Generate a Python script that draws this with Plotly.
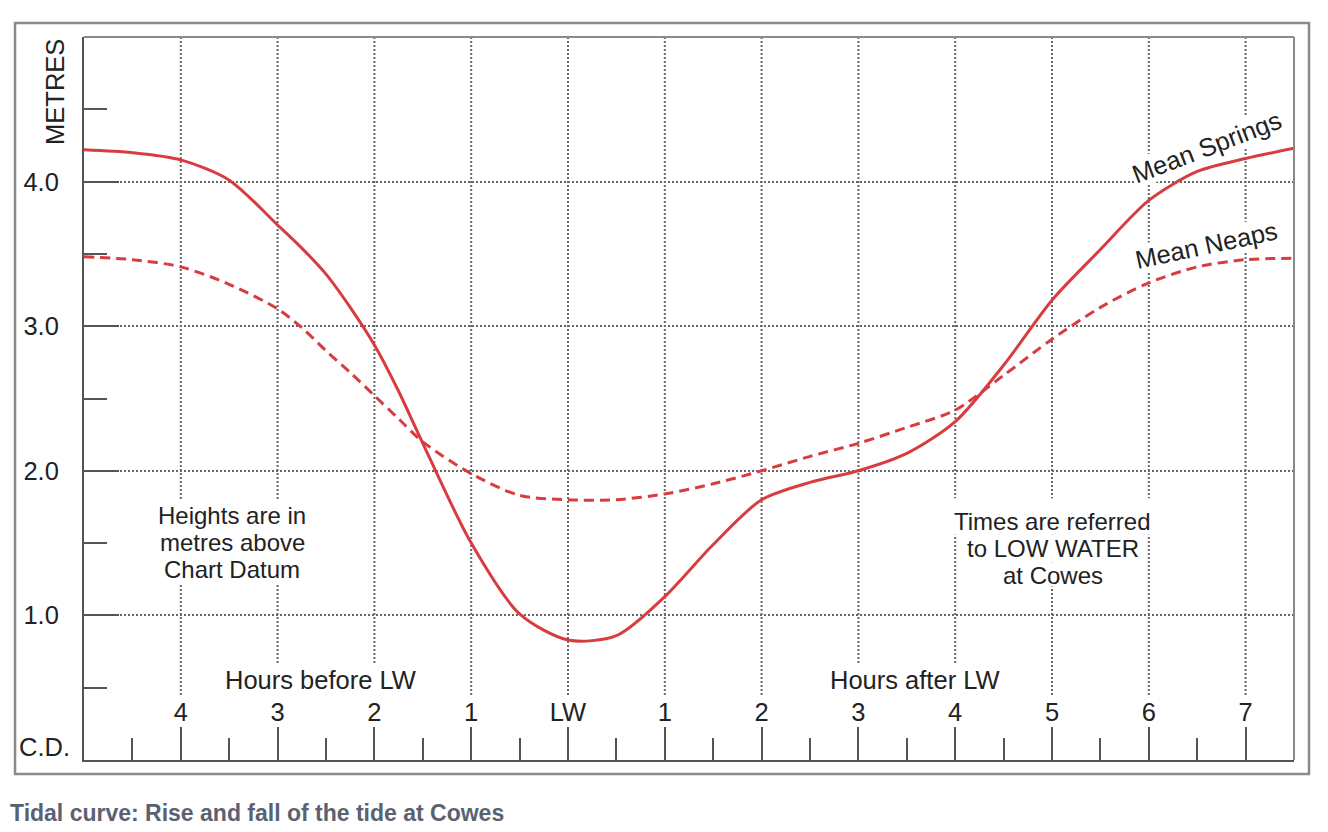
import plotly.graph_objs as go

# hours relative to low water (negative = before LW)
hours = [-5, -4.5, -4, -3.5, -3, -2.75, -2.5, -2.25, -2, -1.75, -1.5, -1, -0.5, 0, 0.5, 1, 1.5, 2, 2.5,
         3, 3.5, 4, 4.5, 5, 5.5, 6, 6.5, 7, 7.5]
springs = [4.22, 4.20, 4.15, 4.01, 3.70, 3.54, 3.36, 3.13, 2.87, 2.55, 2.19, 1.50, 1.01, 0.83, 0.86, 1.13,
           1.49, 1.80, 1.92, 2.00, 2.12, 2.34, 2.73, 3.18, 3.53, 3.87, 4.07, 4.16, 4.23]
neaps = [3.48, 3.46, 3.41, 3.29, 3.12, 2.99, 2.83, 2.68, 2.52, 2.36, 2.20, 1.98, 1.83, 1.80, 1.80, 1.84,
         1.91, 2.00, 2.10, 2.19, 2.30, 2.42, 2.66, 2.91, 3.13, 3.30, 3.41, 3.46, 3.47]

hour_ticks = [-4, -3, -2, -1, 0, 1, 2, 3, 4, 5, 6, 7]
hour_labels = ['4', '3', '2', '1', 'LW', '1', '2', '3', '4', '5', '6', '7']
half_hours = [-4.5, -3.5, -2.5, -1.5, -0.5, 0.5, 1.5, 2.5, 3.5, 4.5, 5.5, 6.5]
height_ticks = [1, 2, 3, 4]
height_labels = ['1.0', '2.0', '3.0', '4.0']
half_metres = [0.5, 1.5, 2.5, 3.5, 4.5]

left_note = ['Heights are in', 'metres above', 'Chart Datum']
right_note = ['Times are referred', 'to LOW WATER', 'at Cowes']

RED = '#d83c3f'
AXIS = '#555555'
GRID = '#666666'
FONT = 'Liberation Sans, Arial, sans-serif'

fig = go.Figure()
fig.add_trace(go.Scatter(x=hours, y=neaps, mode='lines', name='Mean Neaps',
                         line=dict(color=RED, width=3, dash='10px,6px', shape='spline', smoothing=0.8)))
fig.add_trace(go.Scatter(x=hours, y=springs, mode='lines', name='Mean Springs',
                         line=dict(color=RED, width=3, shape='spline', smoothing=0.8)))

# vertical dotted grid, stopping above the hour labels
for h in hour_ticks:
    fig.add_shape(type='line', xref='x', yref='y', x0=h, x1=h, y0=0.45, y1=5,
                  line=dict(color=GRID, width=2, dash='2px,2px'), layer='below')

# white patches behind the notes so the grid breaks around the text
for x0, x1, y0, y1 in [(-4.3, -2.65, 1.21, 1.80), (3.97, 6.09, 1.557, 1.81),
                       (4.08, 5.97, 1.368, 1.557), (4.49, 5.56, 1.2, 1.368)]:
    fig.add_shape(type='rect', xref='x', yref='y', x0=x0, x1=x1, y0=y0, y1=y1,
                  fillcolor='white', line=dict(width=0), layer='below')

# plot frame top/right and outer box
fig.add_shape(type='line', xref='paper', yref='paper', x0=0, x1=1, y0=1, y1=1,
              line=dict(color='#8a8a8a', width=2))
fig.add_shape(type='line', xref='paper', yref='paper', x0=1, x1=1, y0=0, y1=1,
              line=dict(color='#8a8a8a', width=2))
fig.add_shape(type='rect', xref='paper', yref='paper', x0=-0.057, x1=1.0124, y0=-0.0194, y1=1.0194,
              line=dict(color='#8a8a8a', width=2.5))

txt = dict(family=FONT, size=25.5, color='#222222')
note = dict(family=FONT, size=24, color='#222222')

for i, line in enumerate(left_note):
    fig.add_annotation(x=-3.47, y=1.504 + (1 - i) * 0.189, text=line, showarrow=False, font=note,
                       borderpad=0)
for i, line in enumerate(right_note):
    fig.add_annotation(x=5.01, y=1.4625 + (1 - i) * 0.189, text=line, showarrow=False, font=note,
                       borderpad=0)

fig.add_annotation(x=-2.56, y=0.553, text='Hours before LW', showarrow=False, font=txt,
                   bgcolor='white', borderpad=1)
fig.add_annotation(x=3.585, y=0.553, text='Hours after LW', showarrow=False, font=txt,
                   bgcolor='white', borderpad=1)
fig.add_annotation(x=6.6, y=4.24, text='Mean Springs', showarrow=False, font=txt,
                   textangle=-21, bgcolor='white', borderpad=0)
fig.add_annotation(x=6.6, y=3.56, text='Mean Neaps', showarrow=False, font=txt,
                   textangle=-12, bgcolor='white', borderpad=0)
fig.add_annotation(xref='paper', yref='paper', x=-0.024, y=0.924, xanchor='center', yanchor='middle',
                   text='METRES', showarrow=False, font=txt, textangle=-90)
fig.add_annotation(xref='paper', yref='y', x=-0.01, y=0, xanchor='right', yanchor='bottom', yshift=-3,
                   text='C.D.', showarrow=False, font=txt)
fig.add_annotation(xref='paper', yref='paper', x=-0.063, y=-0.0733, xanchor='left', yanchor='middle',
                   text='<b>Tidal curve: Rise and fall of the tide at Cowes</b>', showarrow=False,
                   font=dict(family=FONT, size=23, color='#5a6272'))

fig.update_layout(
    width=1320, height=824,
    margin=dict(l=76, r=34, t=29, b=72),
    paper_bgcolor='white', plot_bgcolor='white',
    showlegend=False,
    font=txt,
    xaxis=dict(range=[-5, 7.5], showgrid=False, zeroline=False,
               showline=True, linecolor=AXIS, linewidth=2,
               tickvals=hour_ticks, ticktext=hour_labels,
               ticks='inside', ticklen=33, tickwidth=2, tickcolor=AXIS,
               ticklabelposition='inside', ticklabelstandoff=3, tickfont=txt,
               minor=dict(tickvals=half_hours, ticks='inside', ticklen=22, tickwidth=2,
                          tickcolor=AXIS, showgrid=False)),
    yaxis=dict(range=[0, 5], zeroline=False,
               showline=True, linecolor=AXIS, linewidth=2,
               tickvals=height_ticks, ticktext=height_labels,
               ticks='inside', ticklen=35, tickwidth=2, tickcolor=AXIS,
               ticklabelstandoff=18, tickfont=txt,
               showgrid=True, gridcolor=GRID, gridwidth=2, griddash='2px,2px',
               minor=dict(tickvals=half_metres, ticks='inside', ticklen=23, tickwidth=2,
                          tickcolor=AXIS, showgrid=False)),
)

fig.write_html("out.html")
